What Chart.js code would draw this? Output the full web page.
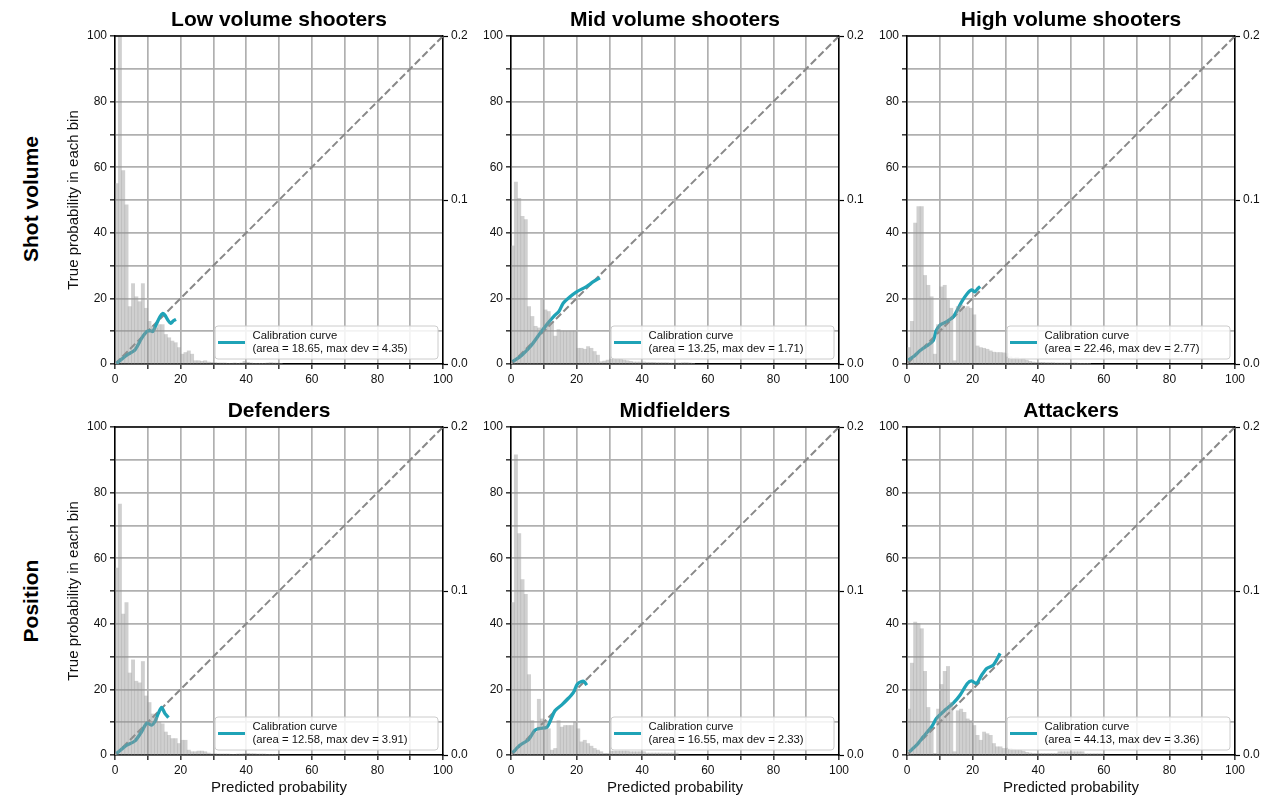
<!DOCTYPE html>
<html>
<head>
<meta charset="utf-8">
<script src="https://cdn.jsdelivr.net/npm/chart.js@4.4.1/dist/chart.umd.min.js"></script>
<style>
  html, body { margin: 0; padding: 0; background: #fff; overflow: hidden; }
  body { width: 1262px; height: 797px; position: relative; font-family: "Liberation Sans", Arial, sans-serif; }
  .panel { position: absolute; }
  .rowlabel { position: absolute; font-weight: bold; font-size: 21px; color: #000; white-space: nowrap;
              transform: translate(-50%, -50%) rotate(-90deg); }
</style>
</head>
<body>
<script>
// ---- data ----
const titles = ["Low volume shooters", "Mid volume shooters", "High volume shooters",
                "Defenders", "Midfielders", "Attackers"];
const rowLabels = ["Shot volume", "Position"];
const areaValues = [18.65, 13.25, 22.46, 12.58, 16.55, 44.13];
const maxDevValues = [4.35, 1.71, 2.77, 3.91, 2.33, 3.36];
const xTicks = [0, 20, 40, 60, 80, 100];
const binWidth = 1;

// histogram densities (right axis), one value per 1-wide bin starting at 0
const histLow = [0.110, 0.220, 0.118, 0.097, 0.035, 0.049, 0.041, 0.038, 0.049, 0.034,
  0.026, 0.023, 0.022, 0.024, 0.024, 0.018, 0.016, 0.014, 0.013, 0.010,
  0.006, 0.007, 0.008, 0.006, 0.002, 0.002, 0.0016, 0.002, 0.0012, 0.001,
  0.0008, 0.0006, 0.0006, 0.0006, 0.0004, 0.0004, 0.0006, 0.0004, 0.0006, 0.0016,
  0.001, 0.0006, 0.0004, 0.0004, 0.0004, 0.0004, 0.0006, 0.0008, 0.0006, 0.0006, 0.0004];
const histMid = [0.072, 0.111, 0.101, 0.090, 0.088, 0.035, 0.029, 0.023, 0.022, 0.039,
  0.033, 0.032, 0.025, 0.017, 0.021, 0.020, 0.020, 0.020, 0.020, 0.020,
  0.0096, 0.0096, 0.009, 0.0106, 0.0096, 0.0076, 0.0054, 0.0014, 0.0018, 0.0024,
  0.003, 0.0036, 0.0032, 0.003, 0.0024, 0.002, 0.0016, 0.0012, 0.0012, 0.0012,
  0.0012, 0.001, 0.001, 0.001, 0.0008, 0.0008, 0.0008, 0.0008, 0.0006, 0.0006,
  0.0006, 0.0006, 0.0008, 0.0008, 0.0006, 0.0004];
const histHigh = [0.010, 0.026, 0.086, 0.096, 0.096, 0.054, 0.048, 0.041, 0.006, 0.024,
  0.047, 0.048, 0.039, 0.034, 0.002, 0.035, 0.036, 0.034, 0.035, 0.034,
  0.030, 0.011, 0.010, 0.0096, 0.009, 0.008, 0.0072, 0.007, 0.007, 0.0068,
  0.0064, 0.0044, 0.0036, 0.004, 0.0028, 0.0036, 0.0024, 0.0016, 0.0012, 0.001,
  0.001, 0.001, 0.0008, 0.0008, 0.0008, 0.0006, 0.0006, 0.0006, 0.0006, 0.0006,
  0.0006, 0.0006, 0.0004, 0.0004, 0.0004, 0.0004];
const histDef = [0.114, 0.153, 0.086, 0.093, 0.050, 0.058, 0.045, 0.044, 0.057, 0.036,
  0.032, 0.025, 0.023, 0.020, 0.019, 0.014, 0.012, 0.010, 0.010, 0.007,
  0.009, 0.009, 0.003, 0.002, 0.002, 0.0024, 0.0024, 0.002, 0.0012, 0.0008,
  0.0008, 0.0006, 0.0006, 0.0006, 0.0006, 0.0004, 0.0004, 0.0006, 0.0006, 0.0008,
  0.001, 0.0008, 0.0008, 0.0006, 0.0006, 0.0006, 0.0004, 0.0004, 0.0004, 0.0004];
const histMidf = [0.093, 0.183, 0.135, 0.107, 0.098, 0.049, 0.021, 0.014, 0.034, 0.022,
  0.021, 0.016, 0.003, 0.004, 0.021, 0.017, 0.018, 0.018, 0.018, 0.020,
  0.016, 0.008, 0.009, 0.007, 0.0054, 0.004, 0.003, 0.002, 0.001, 0.001,
  0.0024, 0.0024, 0.0024, 0.0024, 0.0024, 0.0024, 0.002, 0.002, 0.002, 0.002,
  0.002, 0.0012, 0.0012, 0.0012, 0.0012, 0.0012, 0.0012, 0.0012, 0.0012, 0.0012, 0.0012];
const histAtt = [0.028, 0.056, 0.081, 0.080, 0.077, 0.051, 0.029, 0.016, 0.001, 0.028,
  0.043, 0.051, 0.054, 0.032, 0.002, 0.027, 0.028, 0.026, 0.022, 0.021,
  0.018, 0.012, 0.009, 0.014, 0.013, 0.012, 0.007, 0.005, 0.005, 0.004,
  0.004, 0.004, 0.0036, 0.003, 0.003, 0.0024, 0.0016, 0.0012, 0.001, 0.001,
  0.001, 0.001, 0.001, 0.001, 0.001, 0.001, 0.002, 0.002, 0.002, 0.002,
  0.002, 0.002, 0.002, 0.002, 0.0008, 0.0008, 0.0008, 0.0008, 0.0008, 0.0008];

// calibration curves (predicted %, true %)
const curveLowX = [0.5, 3.6, 6.1, 8.1, 9.7, 10.7, 11.5, 12.5, 13.7, 14.5, 15.2, 16.1, 17.0, 17.8, 18.6];
const curveLowY = [0.2, 2.7, 4.3, 7.8, 9.9, 10.2, 9.9, 11.9, 14.4, 15.4, 14.9, 13.4, 12.4, 13.2, 13.6];
const curveMidX = [0.5, 3.3, 6.3, 8.8, 11.4, 13.4, 14.6, 15.9, 18.0, 20.0, 23.0, 25.1, 27.1];
const curveMidY = [0.7, 2.7, 5.8, 9.3, 12.6, 14.9, 16.0, 18.5, 20.5, 22.0, 23.6, 25.1, 26.3];
const curveHighX = [0.4, 1.9, 4.0, 6.0, 8.0, 8.8, 10.1, 12.1, 14.1, 15.1, 16.7, 18.4, 19.7, 20.7, 21.7, 22.3];
const curveHighY = [1.2, 2.2, 4.1, 5.5, 7.1, 9.9, 11.9, 12.9, 14.4, 16.0, 19.0, 21.5, 22.6, 22.0, 23.1, 23.6];
const curveDefX = [0.5, 3.6, 6.1, 8.1, 9.7, 11.2, 12.2, 13.2, 14.2, 15.2, 16.3];
const curveDefY = [0.5, 3.0, 4.3, 7.1, 9.7, 9.1, 10.2, 12.7, 14.5, 12.7, 11.4];
const curveMidfX = [0.5, 2.7, 5.3, 7.3, 8.8, 10.9, 11.9, 13.4, 15.4, 17.5, 19.0, 20.2, 21.5, 22.3, 23.1];
const curveMidfY = [0.7, 3.0, 4.6, 7.6, 8.1, 8.4, 10.2, 13.5, 15.2, 17.3, 19.0, 21.6, 22.4, 22.4, 21.3];
const curveAttX = [0.7, 2.9, 5.0, 7.5, 9.0, 11.6, 14.1, 16.2, 18.4, 19.7, 21.2, 22.8, 24.3, 26.3, 28.4];
const curveAttY = [1.0, 3.0, 5.6, 8.6, 11.2, 13.7, 15.8, 18.3, 21.8, 22.6, 21.8, 24.4, 26.4, 27.4, 31.0];

const hists = [histLow, histMid, histHigh, histDef, histMidf, histAtt];
const curvesX = [curveLowX, curveMidX, curveHighX, curveDefX, curveMidfX, curveAttX];
const curvesY = [curveLowY, curveMidY, curveHighY, curveDefY, curveMidfY, curveAttY];

// ---- styling ----
const TEAL = "#1fa3b7";
const FONT = '"Liberation Sans", Arial, sans-serif';
const plotLeft = [115, 511, 907];
const plotTop = [36, 427];
const plotSize = 328;

const frameAndLegend = {
    id: "frameAndLegend",
    afterDatasetsDraw(chart, args, opts) {
        const ctx = chart.ctx, a = chart.chartArea;
        const w = 223, h = 33;
        const x = a.right - 5 - w, y = a.bottom - 5 - h;
        ctx.save();
        ctx.beginPath();
        ctx.roundRect(x, y, w, h, 3);
        ctx.fillStyle = "rgba(255,255,255,0.85)";
        ctx.fill();
        ctx.strokeStyle = "#cccccc";
        ctx.lineWidth = 1;
        ctx.stroke();
        ctx.beginPath();
        ctx.moveTo(x + 3, y + 16.5);
        ctx.lineTo(x + 30, y + 16.5);
        ctx.strokeStyle = TEAL;
        ctx.lineWidth = 3;
        ctx.stroke();
        ctx.fillStyle = "#111";
        ctx.font = "11.3px " + FONT;
        ctx.textBaseline = "middle";
        ctx.fillText(opts.lines[0], x + 37.5, y + 9.5);
        ctx.fillText(opts.lines[1], x + 37.5, y + 22.5);
        ctx.restore();
    },
    afterDraw(chart) {
        const ctx = chart.ctx, a = chart.chartArea;
        ctx.save();
        ctx.beginPath();
        ctx.moveTo(a.left, a.top);
        ctx.lineTo(a.right, a.top);
        ctx.strokeStyle = "#000";
        ctx.lineWidth = 1.5;
        ctx.stroke();
        ctx.restore();
    }
};

function makePanel(i) {
    const row = Math.floor(i / 3), col = i % 3;
    const L = col === 0 ? 60 : 40, R = 40, T = 36, B = row === 1 ? 42 : 25;
    const div = document.createElement("div");
    div.className = "panel";
    div.style.left = (plotLeft[col] - L) + "px";
    div.style.top = (plotTop[row] - T) + "px";
    div.style.width = (L + plotSize + R) + "px";
    div.style.height = (T + plotSize + B) + "px";
    const canvas = document.createElement("canvas");
    div.appendChild(canvas);
    document.body.appendChild(div);

    const histData = hists[i].map((v, k) => ({ x: (k + 0.5) * binWidth, y: v }));
    const curveData = curvesX[i].map((v, k) => ({ x: v, y: curvesY[i][k] }));
    const legendLines = ["Calibration curve",
        "(area = " + areaValues[i].toFixed(2) + ", max dev = " + maxDevValues[i].toFixed(2) + ")"];

    return new Chart(canvas, {
        type: "bar",
        data: {
            datasets: [
                {
                    type: "bar",
                    data: histData,
                    yAxisID: "y2",
                    backgroundColor: "rgba(150,150,150,0.45)",
                    borderWidth: 0,
                    barPercentage: 1,
                    categoryPercentage: 1,
                    order: 0
                },
                {
                    type: "line",
                    label: "Calibration curve",
                    data: curveData,
                    yAxisID: "y",
                    borderColor: TEAL,
                    borderWidth: 3.3,
                    pointRadius: 0,
                    tension: 0.25,
                    fill: false,
                    order: 1
                },
                {
                    type: "line",
                    data: [{ x: 0, y: 0 }, { x: 100, y: 100 }],
                    yAxisID: "y",
                    borderColor: "#888888",
                    borderWidth: 2,
                    borderDash: [7.4, 3.2],
                    pointRadius: 0,
                    fill: false,
                    order: 2
                }
            ]
        },
        options: {
            responsive: true,
            maintainAspectRatio: false,
            animation: false,
            events: [],
            layout: { padding: 0 },
            plugins: {
                legend: { display: false },
                tooltip: { enabled: false },
                title: {
                    display: true,
                    text: titles[i],
                    fullSize: false,
                    color: "#000",
                    font: { family: FONT, size: 21, weight: "bold" },
                    padding: { top: 7.4, bottom: 3.4 }
                },
                frameAndLegend: { lines: legendLines }
            },
            scales: {
                x: {
                    type: "linear",
                    min: 0,
                    max: 100,
                    offset: false,
                    afterFit: (s) => { s.height = B; },
                    ticks: {
                        stepSize: 10,
                        autoSkip: false,
                        maxRotation: 0,
                        padding: 3,
                        color: "#111",
                        font: { family: FONT, size: 12 },
                        callback: (v) => (xTicks.includes(v) ? v : "")
                    },
                    grid: { offset: false, color: "#b0b0b0", lineWidth: 1.7, tickLength: 5, tickColor: "#000", tickWidth: 1.2 },
                    border: { display: true, color: "#000", width: 1.5 },
                    title: {
                        display: row === 1,
                        text: "Predicted probability",
                        color: "#111",
                        font: { family: FONT, size: 15 },
                        padding: { top: 0, bottom: 0 }
                    }
                },
                y: {
                    type: "linear",
                    position: "left",
                    min: 0,
                    max: 100,
                    afterFit: (s) => { s.width = L; },
                    ticks: {
                        stepSize: 10,
                        autoSkip: false,
                        padding: 3,
                        color: "#111",
                        font: { family: FONT, size: 12 },
                        callback: (v) => (xTicks.includes(v) ? v : "")
                    },
                    grid: { color: "#b0b0b0", lineWidth: 1.7, tickLength: 5, tickColor: "#000", tickWidth: 1.2 },
                    border: { display: true, color: "#000", width: 1.5 },
                    title: {
                        display: col === 0,
                        text: "True probability in each bin",
                        color: "#111",
                        font: { family: FONT, size: 15 },
                        padding: { top: 10, bottom: 0 }
                    }
                },
                y2: {
                    type: "linear",
                    position: "right",
                    min: 0,
                    max: 0.2,
                    afterFit: (s) => { s.width = R; },
                    ticks: {
                        stepSize: 0.1,
                        padding: 3,
                        color: "#111",
                        font: { family: FONT, size: 12 },
                        callback: (v) => v.toFixed(1)
                    },
                    grid: { drawOnChartArea: false, tickLength: 5, tickColor: "#000", tickWidth: 1.2 },
                    border: { display: true, color: "#000", width: 1.5 }
                }
            }
        },
        plugins: [frameAndLegend]
    });
}

// row labels
const rowCenters = [199, 601];
rowLabels.forEach((t, r) => {
    const d = document.createElement("div");
    d.className = "rowlabel";
    d.style.left = "31px";
    d.style.top = rowCenters[r] + "px";
    d.textContent = t;
    document.body.appendChild(d);
});

for (let i = 0; i < 6; i++) makePanel(i);
</script>
</body>
</html>
